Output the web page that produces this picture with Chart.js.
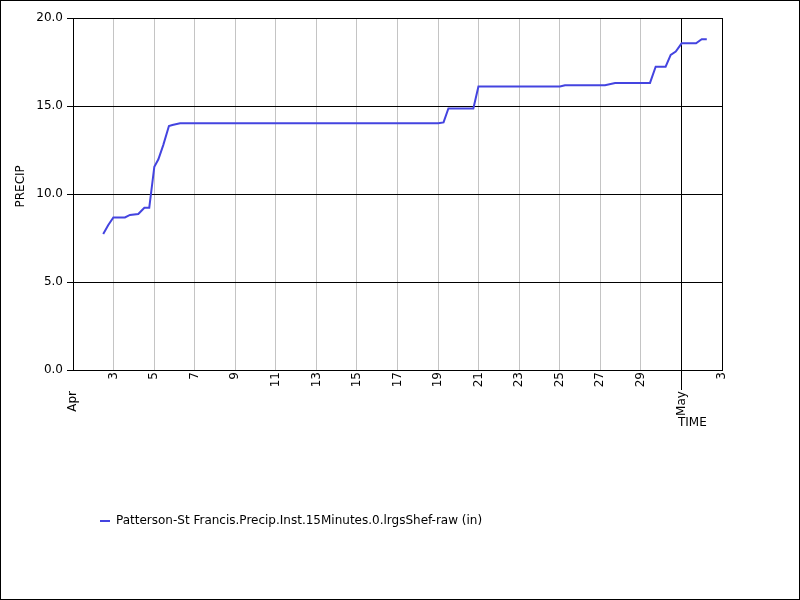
<!DOCTYPE html>
<html>
<head>
<meta charset="utf-8">
<script src="https://cdn.jsdelivr.net/npm/chart.js@4"></script>
<style>
  html, body { margin: 0; padding: 0; background: #fff; }
  #wrap { width: 800px; height: 600px; }
</style>
</head>
<body>
<div id="wrap"><canvas id="precipChart"></canvas></div>
<script>
// Precip gage data (days since Apr 1 00:00, inches)
const timeDays = [1.49, 1.74, 1.99, 2.56, 2.81, 3.22, 3.52, 3.76, 4.01, 4.21, 4.45, 4.73, 4.90, 5.28,
    18.01, 18.27, 18.51, 19.74, 19.99, 24.01, 24.26, 26.23, 26.73, 28.45, 28.73, 29.22,
    29.47, 29.72, 30.01, 30.72, 31.00, 31.25];
const precipIn = [7.73, 8.24, 8.67, 8.67, 8.81, 8.86, 9.22, 9.22, 11.55, 11.97, 12.78, 13.86, 13.92, 14.02,
    14.02, 14.07, 14.86, 14.86, 16.11, 16.11, 16.18, 16.18, 16.31, 16.31, 17.23, 17.23,
    17.90, 18.09, 18.56, 18.56, 18.79, 18.79];

const xTickLabels = ['Apr', '3', '5', '7', '9', '11', '13', '15', '17', '19', '21', '23', '25', '27', '29', 'May', '3'];
const seriesName = 'Patterson-St Francis.Precip.Inst.15Minutes.0.lrgsShef-raw (in)';

const isMonth = (lbl) => isNaN(Number(lbl));

Chart.defaults.font.family = "'DejaVu Sans', sans-serif";
Chart.defaults.font.size = 12;
Chart.defaults.color = '#000';

// white page with a thin black frame, plus the long month tick below the axis
const framePlugin = {
    id: 'frame',
    beforeDraw(chart) {
        const ctx = chart.ctx;
        ctx.save();
        ctx.fillStyle = '#fff';
        ctx.fillRect(0, 0, chart.width, chart.height);
        ctx.restore();
    },
    afterDraw(chart) {
        const ctx = chart.ctx;
        const xs = chart.scales.x;
        ctx.save();
        ctx.strokeStyle = '#000';
        ctx.lineWidth = 1;
        xs.ticks.forEach((t, i) => {
            if (isMonth(xTickLabels[i]) && t.value > xs.min) {
                const px = Math.round(xs.getPixelForValue(t.value)) + 0.5;
                ctx.beginPath();
                ctx.moveTo(px, xs.top);
                ctx.lineTo(px, xs.top + 20);
                ctx.stroke();
            }
        });
        ctx.strokeRect(0.5, 0.5, chart.width - 1, chart.height - 1);
        ctx.restore();
    }
};

const ctx = document.getElementById('precipChart').getContext('2d');
new Chart(ctx, {
    type: 'line',
    data: {
        datasets: [{
            label: seriesName,
            data: timeDays.map((d, i) => ({ x: d, y: precipIn[i] })),
            borderColor: '#4444e0',
            backgroundColor: '#4444e0',
            borderWidth: 2,
            pointRadius: 0,
            tension: 0,
            fill: false
        }]
    },
    options: {
        responsive: true,
        maintainAspectRatio: false,
        animation: false,
        layout: { padding: { top: 18, right: 78, bottom: 63, left: 0 } },
        plugins: {
            legend: {
                position: 'bottom',
                align: 'start',
                fullSize: false,
                labels: {
                    usePointStyle: true,
                    pointStyle: 'line',
                    pointStyleWidth: 10,
                    padding: 27,
                    color: '#000'
                }
            },
            tooltip: { enabled: false }
        },
        scales: {
            x: {
                type: 'linear',
                min: 0,
                max: 32,
                afterFit: (scale) => { scale.height = 118; },
                ticks: {
                    stepSize: 2,
                    autoSkip: false,
                    maxRotation: 90,
                    minRotation: 90,
                    padding: 2,
                    color: '#000',
                    callback: function(value, index) {
                        const lbl = xTickLabels[index];
                        return isMonth(lbl) ? lbl + '     ' : lbl;
                    }
                },
                grid: {
                    drawTicks: false,
                    color: (c) => {
                        const lbl = xTickLabels[c.index];
                        return (isMonth(lbl) || c.index === xTickLabels.length - 1) ? '#000' : '#c4c4c4';
                    }
                },
                border: { color: '#000' },
                title: {
                    display: true,
                    text: 'TIME    ',
                    align: 'end',
                    color: '#000',
                    padding: { top: 0, bottom: 58 }
                }
            },
            y: {
                min: 0,
                max: 20,
                afterFit: (scale) => { scale.width = 73; },
                ticks: {
                    stepSize: 5,
                    padding: 4,
                    color: '#000',
                    callback: (v) => v.toFixed(1)
                },
                grid: {
                    color: '#000',
                    tickColor: '#000',
                    tickLength: 6
                },
                border: { color: '#000' },
                title: {
                    display: true,
                    text: '    PRECIP',
                    color: '#000',
                    padding: { top: 14, bottom: 0 }
                }
            }
        }
    },
    plugins: [framePlugin]
});
</script>
</body>
</html>
